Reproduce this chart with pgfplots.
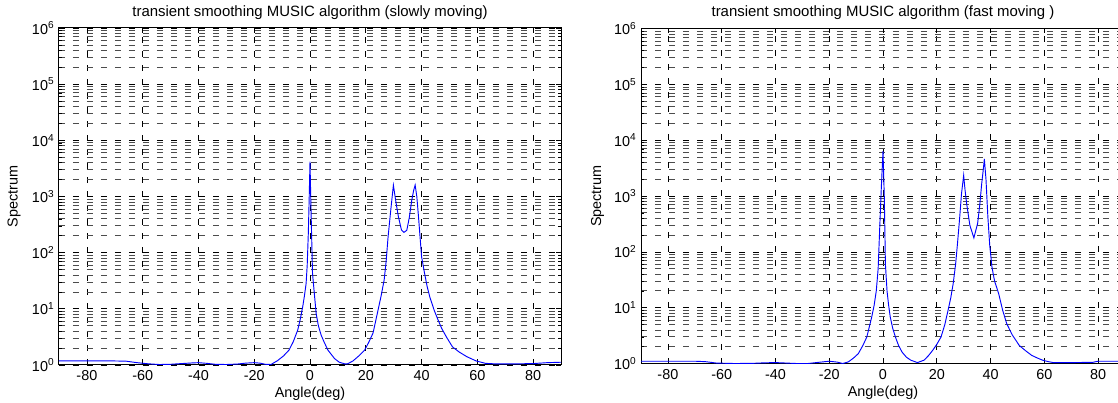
\documentclass[border=0pt]{standalone}
\usepackage{pgfplots}
\pgfplotsset{compat=1.18}
\usepackage{fontspec}
\setmainfont{Liberation Sans}

\pgfplotsset{
  musicaxis/.style={
    scale only axis,
    xmin=-90, xmax=90,
    ymin=1, ymax=1e6,
    xtick={-80,-60,-40,-20,0,20,40,60,80},
    xticklabels={-80,-60,-40,-20,0,20,40,60,80},
    ytick={1,10,100,1000,10000,100000,1000000},
    yticklabels={10\textsuperscript{0},10\textsuperscript{1},10\textsuperscript{2},10\textsuperscript{3},10\textsuperscript{4},10\textsuperscript{5},10\textsuperscript{6}},
    minor ytick={2,3,4,5,6,7,8,9,
      20,30,40,50,60,70,80,90,
      200,300,400,500,600,700,800,900,
      2000,3000,4000,5000,6000,7000,8000,9000,
      20000,30000,40000,50000,60000,70000,80000,90000,
      200000,300000,400000,500000,600000,700000,800000,900000},
    xmajorgrids, ymajorgrids, yminorgrids,
    major grid style={black, line width=0.5pt, dash pattern=on 4.5pt off 6pt},
    minor grid style={black!70, line width=0.6pt, dash pattern=on 4.5pt off 6pt},
    axis line style={black, line width=0.75pt},
    tick align=inside,
    major tick length=3.5pt,
    minor tick length=2pt,
    tick style={black, line width=0.5pt},
    tick label style={font=\fontsize{10.8}{13}\selectfont},
    xticklabel style={anchor=base, yshift=-12pt},
    title style={font=\fontsize{11.2}{13}\selectfont, at={(0.5,1)}, anchor=base, yshift=2.75pt},
    every axis x label/.style={at={(axis description cs:0.5,0)}, anchor=base, yshift=-24.5pt,
      font=\fontsize{10.8}{13}\selectfont},
    xlabel={Angle(deg)},
    ylabel={Spectrum},
  },
  spec/.style={blue, line width=0.7pt, mark=none},
}

\begin{document}
\begin{tikzpicture}
\path[use as bounding box] (0,0) rectangle (838.5pt,302.25pt);
\clip (0,0) rectangle (838.5pt,302.25pt);

% slowly moving
\begin{axis}[ymode=log, musicaxis,
  at={(44.25pt,28.5pt)}, anchor=south west,
  width=376.5pt, height=252.75pt,
  every axis y label/.style={at={(axis description cs:0,0.5)}, xshift=-33.75pt, rotate=90, anchor=center,
    font=\fontsize{10.8}{13}\selectfont},
  title={transient smoothing MUSIC algorithm (slowly moving)}]
\addplot[spec] coordinates {
(-90,1.18) (-80,1.18) (-70,1.18) (-66,1.17) (-62,1.1) (-58,1.05) (-54,1.02)
(-50,1.03) (-46,1.06) (-42,1.09) (-40,1.1) (-37,1.07) (-34,1.03) (-30,1.02)
(-26,1.04) (-23,1.08) (-20,1.1) (-18,1.08) (-16,1.03) (-14,1.02)
(-11.7,1.19) (-9.5,1.45) (-7.5,1.85) (-6,2.6) (-4.4,4.2) (-3.5,6.5) (-2.6,11)
(-2,17) (-1.4,28) (-1,60) (-0.6,224) (-0.3,900) (0,4170) (0.3,800) (0.9,43)
(1.5,20) (2.2,8.3) (3,5) (4,3.4) (5,2.6) (6.4,1.85) (8.8,1.3) (10.5,1.12)
(12.4,1.05) (13.5,1.05) (15.4,1.18) (17.5,1.45) (19.6,1.85) (21,2.5) (22.6,3.7)
(24.4,9.5) (25.5,17) (26.6,33) (27.3,70) (28,192) (29,600) (29.9,1590)
(30.8,800) (31.7,436) (32.8,253) (33.7,230) (34.7,250) (35.6,420) (36.5,870)
(37.2,1300) (37.7,1600) (38.3,1000) (38.9,436) (39.5,180) (40,85) (41,45)
(42,25) (43,16) (44.5,9.5) (46,6.2) (47.2,4.5) (49,3.1) (51.1,2.1) (53.5,1.7)
(56.3,1.4) (59.6,1.18) (62.9,1.07) (66,1.05) (70,1.05) (75,1.05) (80,1.06)
(85,1.1) (90,1.12)
};
\end{axis}

% fast moving
\begin{axis}[ymode=log, musicaxis,
  at={(480.75pt,29.6pt)}, anchor=south west,
  width=363pt, height=251.25pt,
  every axis y label/.style={at={(axis description cs:0,0.5)}, xshift=-32.6pt, rotate=90, anchor=center,
    font=\fontsize{10.8}{13}\selectfont},
  title={transient smoothing MUSIC algorithm (fast moving )}]
\addplot[spec] coordinates {
(-90,1.1) (-80,1.1) (-70,1.1) (-66,1.08) (-62,1.02) (-55,1.0) (-48,1.01)
(-44,1.03) (-40,1.04) (-36,1.02) (-32,1.0) (-28,1.0) (-24,1.05) (-20,1.1)
(-17,1.06) (-15,1.0) (-12.9,1.07) (-11,1.25) (-9.2,1.5) (-7.5,2.1) (-6,3.0)
(-4.2,6.8) (-3.3,11) (-2.5,20) (-1.8,50) (-1.3,213) (-0.6,1500) (0,6400)
(0.5,900) (0.9,60) (1.5,20) (2.1,11) (2.7,6.8) (3.6,4.3) (4.6,3.0) (5.8,2.1)
(7.1,1.6) (8.7,1.3) (10.3,1.15) (12.8,1.04) (15.3,1.15) (17,1.4) (18.5,1.73)
(20,2.2) (21.6,3.0) (23,5) (24.2,9) (25.2,15) (26.1,27) (27,60) (27.7,140)
(28.5,400) (29.2,1100) (30,2350) (30.5,1300) (31.1,740) (32.3,300)
(33.8,178) (35.2,325) (36,700) (36.7,1650) (37.3,3000) (37.7,4600)
(38.3,2000) (39,425) (39.7,130) (40.5,54) (41.5,30) (43,18) (44.5,9)
(46,5.2) (48,3.3) (50.7,2.1) (53,1.7) (55.3,1.4) (57.5,1.25) (59.3,1.15)
(61.5,1.08) (63.3,1.04) (70,1.04) (78,1.05) (80,1.1) (90,1.1)
};
\end{axis}
\end{tikzpicture}
\end{document}
